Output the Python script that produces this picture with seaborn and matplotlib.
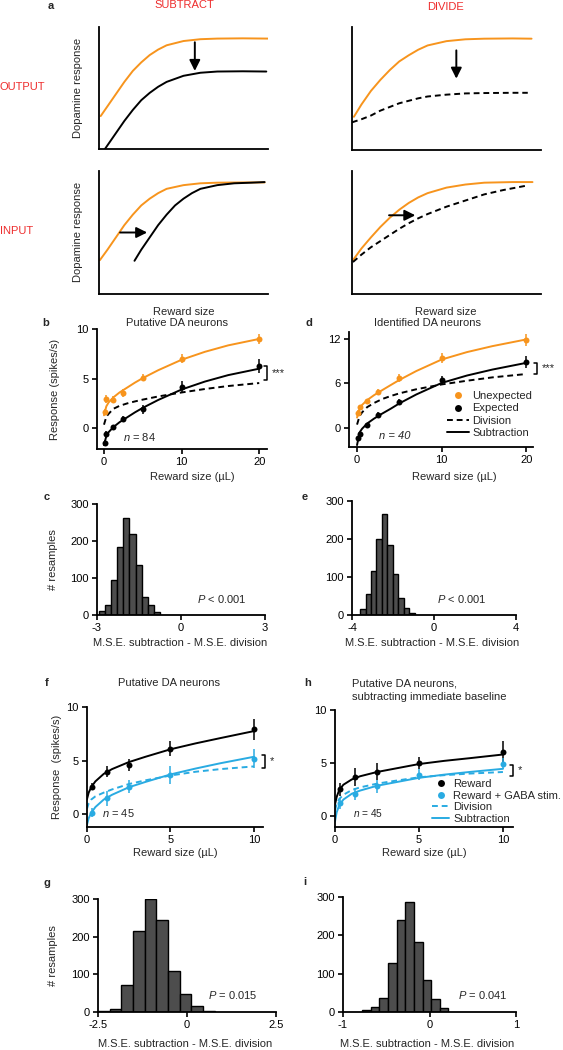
import matplotlib
matplotlib.use('Agg')
import matplotlib.pyplot as plt
import seaborn as sns
import numpy as np
from matplotlib.lines import Line2D

W, H = 563, 1050
ORANGE = '#F7941D'
BLUE = '#29ABE2'
RED = '#EE2D2D'
BAR = '#4D4D4D'

# ---------- panel a: schematic curves (axes units 0-1) ----------
so_x = [0.01, 0.05, 0.1, 0.15, 0.2, 0.25, 0.3, 0.35, 0.4, 0.5, 0.6, 0.7, 0.85, 1.0]
so_orange = [0.27, 0.35, 0.45, 0.55, 0.64, 0.71, 0.77, 0.815, 0.85, 0.885, 0.9, 0.905, 0.907, 0.905]
so_black_x = [0.035, 0.07, 0.1, 0.15, 0.2, 0.25, 0.3, 0.35, 0.4, 0.5, 0.6, 0.7, 0.85, 0.99]
so_black = [0.0, 0.07, 0.13, 0.23, 0.32, 0.40, 0.46, 0.51, 0.55, 0.60, 0.625, 0.635, 0.637, 0.635]

do_x = [0.01, 0.05, 0.1, 0.15, 0.2, 0.25, 0.3, 0.35, 0.4, 0.5, 0.6, 0.7, 0.85, 0.95]
do_orange = [0.27, 0.37, 0.48, 0.57, 0.65, 0.72, 0.77, 0.815, 0.85, 0.885, 0.9, 0.905, 0.907, 0.905]
do_dash_x = [0.0, 0.05, 0.1, 0.15, 0.2, 0.25, 0.3, 0.35, 0.4, 0.5, 0.6, 0.7, 0.85, 0.93]
do_dash = [0.225, 0.25, 0.28, 0.32, 0.35, 0.38, 0.4, 0.42, 0.435, 0.45, 0.46, 0.463, 0.465, 0.465]

si_x = [0.005, 0.05, 0.1, 0.15, 0.2, 0.25, 0.3, 0.35, 0.4, 0.5, 0.6, 0.7, 0.85, 0.98]
si_orange = [0.275, 0.36, 0.46, 0.56, 0.645, 0.72, 0.775, 0.82, 0.855, 0.885, 0.9, 0.905, 0.907, 0.907]
si_black_x = [0.21, 0.25, 0.3, 0.35, 0.4, 0.45, 0.5, 0.55, 0.6, 0.7, 0.8, 0.9, 0.98]
si_black = [0.27, 0.36, 0.46, 0.56, 0.645, 0.72, 0.775, 0.82, 0.855, 0.885, 0.9, 0.905, 0.91]

di_x = [0.005, 0.05, 0.1, 0.15, 0.2, 0.25, 0.3, 0.35, 0.4, 0.5, 0.6, 0.7, 0.85, 0.955]
di_orange = [0.275, 0.37, 0.46, 0.545, 0.62, 0.685, 0.74, 0.785, 0.82, 0.865, 0.89, 0.905, 0.91, 0.91]
di_dash_x = [0.005, 0.05, 0.1, 0.15, 0.2, 0.25, 0.3, 0.35, 0.4, 0.5, 0.6, 0.7, 0.8, 0.92]
di_dash = [0.26, 0.32, 0.38, 0.43, 0.48, 0.53, 0.575, 0.615, 0.65, 0.71, 0.76, 0.81, 0.845, 0.88]

# ---------- panels b, d: reward size responses ----------
reward_x = [0.1, 0.3, 1.2, 2.5, 5, 10, 20]
fit_x = [0, 0.3, 0.6, 1.2, 2, 3, 4, 5, 7, 10, 13, 16, 20]

b_unexp = [1.6, 2.9, 2.85, 3.5, 5.1, 7.0, 8.95]
b_unexp_err = [0.3, 0.4, 0.35, 0.4, 0.37, 0.47, 0.5]
b_exp = [-1.5, -0.6, 0.1, 0.9, 1.9, 4.2, 6.3]
b_exp_err = [0.3, 0.3, 0.25, 0.3, 0.45, 0.55, 0.7]
b_fit_unexp = [1.3, 2.2, 2.6, 3.1, 3.6, 4.1, 4.6, 5.05, 5.85, 6.9, 7.7, 8.35, 9.0]
b_fit_sub = [-1.7, -0.8, -0.4, 0.1, 0.6, 1.1, 1.6, 2.05, 2.85, 3.9, 4.7, 5.35, 6.0]
b_fit_div = [0.35, 1.15, 1.45, 1.95, 2.25, 2.5, 2.7, 2.88, 3.2, 3.6, 3.95, 4.25, 4.55]

d_unexp = [2.0, 2.8, 3.6, 4.9, 6.7, 9.4, 11.8]
d_unexp_err = [0.4, 0.35, 0.35, 0.4, 0.5, 0.63, 0.8]
d_exp = [-1.4, -0.8, 0.4, 1.75, 3.5, 6.5, 8.9]
d_exp_err = [0.3, 0.3, 0.3, 0.35, 0.4, 0.55, 0.8]
d_fit_unexp = [1.4, 2.6, 3.1, 3.75, 4.4, 5.1, 5.78, 6.45, 7.65, 9.2, 10.2, 11.0, 11.9]
d_fit_sub = [-2.3, -0.6, -0.1, 0.6, 1.25, 1.95, 2.6, 3.3, 4.5, 6.05, 7.05, 7.85, 8.75]
d_fit_div = [0.45, 1.6, 2.1, 2.8, 3.35, 3.9, 4.3, 4.65, 5.2, 5.85, 6.35, 6.8, 7.25]

# ---------- panels f, h: GABA stimulation ----------
gaba_x = [0.3, 1.2, 2.5, 5, 10]
fit2_x = [0, 0.1, 0.25, 0.5, 1, 1.5, 2.5, 3.5, 5, 6.5, 8, 10]

f_rew = [2.56, 3.97, 4.6, 6.1, 7.9]
f_rew_err = [0.34, 0.55, 0.55, 0.7, 0.94]
f_gaba = [0.12, 1.47, 2.56, 3.66, 5.16]
f_gaba_err = [0.42, 0.7, 0.6, 0.83, 0.9]
f_fit_rew = [1.4, 2.0, 2.5, 3.05, 3.75, 4.2, 4.85, 5.35, 6.05, 6.6, 7.1, 7.75]
f_fit_sub = [-1.0, -0.4, 0.1, 0.65, 1.35, 1.8, 2.5, 3.0, 3.7, 4.25, 4.75, 5.35]
f_fit_div = [0.5, 1.0, 1.35, 1.65, 2.0, 2.3, 2.8, 3.15, 3.6, 3.95, 4.2, 4.45]

h_rew = [2.5, 3.7, 4.16, 5.0, 6.03]
h_rew_err = [0.65, 0.85, 0.8, 0.6, 1.0]
h_gaba = [1.19, 2.06, 2.8, 3.9, 4.94]
h_gaba_err = [0.5, 0.55, 0.6, 0.55, 0.5]
h_fit_rew = [1.1, 1.8, 2.45, 2.95, 3.45, 3.75, 4.15, 4.45, 4.9, 5.2, 5.45, 5.8]
h_fit_sub = [-0.5, 0.35, 1.0, 1.55, 2.1, 2.4, 2.85, 3.15, 3.6, 3.9, 4.15, 4.45]
h_fit_div = [0.55, 1.15, 1.6, 2.0, 2.45, 2.7, 3.05, 3.3, 3.65, 3.85, 4.0, 4.15]

# ---------- histograms: M.S.E. subtraction - M.S.E. division ----------
c_edges = [-2.94, -2.72, -2.50, -2.28, -2.06, -1.84, -1.62, -1.40, -1.18, -0.96, -0.74]
c_counts = [12, 26, 95, 185, 262, 219, 136, 48, 27, 9]
e_edges = [-3.61, -3.34, -3.07, -2.81, -2.54, -2.27, -2.01, -1.74, -1.47, -1.21, -0.94]
e_counts = [17, 55, 115, 200, 266, 184, 107, 45, 19, 6]
g_edges = [-2.5, -2.17, -1.84, -1.52, -1.19, -0.86, -0.53, -0.20, 0.12, 0.45, 0.78]
g_counts = [2, 9, 71, 216, 299, 244, 109, 47, 15, 3]
i_edges = [-0.78, -0.68, -0.58, -0.48, -0.38, -0.28, -0.18, -0.08, 0.02, 0.12, 0.21]
i_counts = [5, 13, 37, 128, 241, 287, 183, 83, 34, 11]

sns.set_style('ticks')
plt.rcParams['font.family'] = ['Liberation Sans', 'DejaVu Sans']
plt.rcParams['mathtext.fontset'] = 'custom'
plt.rcParams['mathtext.rm'] = 'Liberation Sans'
plt.rcParams['mathtext.it'] = 'Liberation Sans:italic'
plt.rcParams['axes.unicode_minus'] = False
plt.rcParams['axes.edgecolor'] = 'black'
plt.rcParams['xtick.color'] = 'black'
plt.rcParams['ytick.color'] = 'black'
FS = 8
DASH = (0, (3, 2))

fig = plt.figure(figsize=(W / 100, H / 100), dpi=100)


def rect(l, t, r, b):
    return [l / W, 1 - b / H, (r - l) / W, (b - t) / H]


def ftext(x, y, s, **kw):
    kw.setdefault('fontsize', FS)
    kw.setdefault('va', 'center')
    fig.text(x / W, 1 - y / H, s, **kw)


def style(ax):
    sns.despine(ax=ax)
    for sp in ['left', 'bottom']:
        ax.spines[sp].set_linewidth(1.3)
    ax.tick_params(length=3.5, width=1.2, pad=2.5, labelsize=FS, direction='out')
    ax.set_xlabel('')
    ax.set_ylabel('')


def bracket(x, y0, y1, stars):
    fig.add_artist(Line2D([(x - 3) / W, x / W, x / W, (x - 3) / W],
                          [1 - y0 / H, 1 - y0 / H, 1 - y1 / H, 1 - y1 / H],
                          transform=fig.transFigure, color='k', lw=1.1))
    ftext(x + 5, (y0 + y1) / 2, stars, fontsize=8, ha='left')


def line(ax, x, y, color, ls='-'):
    sns.lineplot(x=x, y=y, ax=ax, color=color, lw=1.4, linestyle=ls)


def arrow(ax, start, end):
    ax.annotate('', xy=end, xytext=start,
                arrowprops=dict(arrowstyle='-|>', color='k', lw=1.4,
                                mutation_scale=16, shrinkA=0, shrinkB=0))


# ---- a ----
ax_so = fig.add_axes(rect(99, 27, 268, 149))
ax_do = fig.add_axes(rect(352, 27, 541, 150))
ax_si = fig.add_axes(rect(99, 171, 268, 294))
ax_di = fig.add_axes(rect(352, 171, 541, 294))
for ax in [ax_so, ax_do, ax_si, ax_di]:
    style(ax)
    ax.set_xlim(0, 1)
    ax.set_ylim(0, 1)
    ax.set_xticks([])
    ax.set_yticks([])

line(ax_so, so_x, so_orange, ORANGE)
line(ax_so, so_black_x, so_black, 'black')
arrow(ax_so, (0.567, 0.875), (0.567, 0.64))

line(ax_do, do_x, do_orange, ORANGE)
line(ax_do, do_dash_x, do_dash, 'black', DASH)
arrow(ax_do, (0.552, 0.81), (0.552, 0.58))

line(ax_si, si_x, si_orange, ORANGE)
line(ax_si, si_black_x, si_black, 'black')
arrow(ax_si, (0.125, 0.50), (0.285, 0.50))

line(ax_di, di_x, di_orange, ORANGE)
line(ax_di, di_dash_x, di_dash, 'black', DASH)
arrow(ax_di, (0.196, 0.64), (0.335, 0.64))

ftext(51, 6, 'a', fontweight='bold', ha='center')
ftext(184, 5, 'SUBTRACT', color=RED, ha='center')
ftext(446, 7, 'DIVIDE', color=RED, ha='center')
ftext(0, 87, 'OUTPUT', color=RED, ha='left')
ftext(0, 231, 'INPUT', color=RED, ha='left')
ftext(78, 88, 'Dopamine response', rotation=90, ha='center')
ftext(78, 232, 'Dopamine response', rotation=90, ha='center')
ftext(184, 312, 'Reward size', ha='center')
ftext(446, 312, 'Reward size', ha='center')


# ---- b, d ----
def response_panel(ax, unexp, unexp_err, exp, exp_err, fit_u, fit_s, fit_d):
    line(ax, fit_x, fit_u, ORANGE)
    line(ax, fit_x, fit_s, 'black')
    line(ax, fit_x, fit_d, 'black', DASH)
    ax.errorbar(reward_x, unexp, yerr=unexp_err, fmt='o', color=ORANGE, ms=4.3,
                mew=0, elinewidth=1.1, capsize=1.5, capthick=1.1)
    ax.errorbar(reward_x, exp, yerr=exp_err, fmt='o', color='black', ms=4.3,
                mew=0, elinewidth=1.1, capsize=1.5, capthick=1.1)
    style(ax)
    ax.set_xticks([0, 10, 20])


ax_b = fig.add_axes(rect(97, 329, 267, 449))
response_panel(ax_b, b_unexp, b_unexp_err, b_exp, b_exp_err, b_fit_unexp, b_fit_sub, b_fit_div)
ax_b.set_xlim(-0.9, 21)
ax_b.set_ylim(-2.1, 10)
ax_b.set_yticks([0, 5, 10])

ax_d = fig.add_axes(rect(349, 332, 533, 447))
response_panel(ax_d, d_unexp, d_unexp_err, d_exp, d_exp_err, d_fit_unexp, d_fit_sub, d_fit_div)
ax_d.set_xlim(-0.95, 20.8)
ax_d.set_ylim(-2.56, 12.9)
ax_d.set_yticks([0, 6, 12])

ftext(46, 323, 'b', fontweight='bold', ha='center')
ftext(177, 323, 'Putative DA neurons', ha='center')
ftext(309, 323, 'd', fontweight='bold', ha='center')
ftext(428, 323, 'Identified DA neurons', ha='center')
ftext(55, 389, 'Response (spikes/s)', rotation=90, ha='center')
ftext(192, 477, 'Reward size (\u00b5L)', ha='center')
ftext(454, 477, 'Reward size (\u00b5L)', ha='center')
ftext(123, 437, r'$\mathit{n}$ = 84', ha='left')
ftext(379, 436, 'n = 40', ha='left', fontstyle='italic')
bracket(267, 366, 380, '***')
bracket(537, 363, 374, '***')

leg_d = [Line2D([], [], marker='o', color=ORANGE, ls='none', ms=5, mew=0),
         Line2D([], [], marker='o', color='black', ls='none', ms=5, mew=0),
         Line2D([], [], color='black', ls=DASH, lw=1.4),
         Line2D([], [], color='black', ls='-', lw=1.4)]
ax_d.legend(leg_d, ['Unexpected', 'Expected', 'Division', 'Subtraction'],
            loc='upper left', bbox_to_anchor=(447 / W, 1 - 391 / H),
            bbox_transform=fig.transFigure, frameon=False, fontsize=8,
            handlelength=2.0, handletextpad=0.3, labelspacing=0.22,
            borderpad=0, borderaxespad=0)


# ---- c, e, g, i ----
def hist_panel(ax, edges, counts, xlim, xticks, xticklabels):
    centers = [(a + b) / 2 for a, b in zip(edges[:-1], edges[1:])]
    sns.histplot(x=centers, weights=counts, bins=edges, ax=ax, color=BAR,
                 edgecolor='black', linewidth=1.0, alpha=1)
    style(ax)
    ax.set_xlim(*xlim)
    ax.set_ylim(0, 300)
    ax.set_yticks([0, 100, 200, 300])
    ax.set_xticks(xticks)
    ax.set_xticklabels(xticklabels)


ax_c = fig.add_axes(rect(97, 504, 265, 615))
hist_panel(ax_c, c_edges, c_counts, (-3, 3), [-3, 0, 3], ['-3', '0', '3'])
ax_e = fig.add_axes(rect(352, 501, 516, 615))
hist_panel(ax_e, e_edges, e_counts, (-4, 4), [-4, 0, 4], ['-4', '0', '4'])
ax_g = fig.add_axes(rect(98, 899, 276, 1012))
hist_panel(ax_g, g_edges, g_counts, (-2.5, 2.5), [-2.5, 0, 2.5], ['-2.5', '0', '2.5'])
ax_i = fig.add_axes(rect(343, 897, 516, 1012))
hist_panel(ax_i, i_edges, i_counts, (-1, 1), [-1, 0, 1], ['-1', '0', '1'])

ftext(47, 497, 'c', fontweight='bold', ha='center')
ftext(305, 497, 'e', fontweight='bold', ha='center')
ftext(47, 883, 'g', fontweight='bold', ha='center')
ftext(305, 882, 'i', fontweight='bold', ha='center')
ftext(53, 560, '# resamples', rotation=90, ha='center')
ftext(53, 956, '# resamples', rotation=90, ha='center')
ftext(180, 643, 'M.S.E. subtraction - M.S.E. division', ha='center')
ftext(432, 643, 'M.S.E. subtraction - M.S.E. division', ha='center')
ftext(185, 1044, 'M.S.E. subtraction - M.S.E. division', ha='center')
ftext(427, 1044, 'M.S.E. subtraction - M.S.E. division', ha='center')
ftext(197, 599, r'$\mathit{P}$ < 0.001', ha='left')
ftext(437, 599, r'$\mathit{P}$ < 0.001', ha='left')
ftext(208, 995, r'$\mathit{P}$ = 0.015', ha='left')
ftext(458, 995, r'$\mathit{P}$ = 0.041', ha='left')


# ---- f, h ----
def gaba_panel(ax, rew, rew_err, gaba, gaba_err, fit_r, fit_s, fit_d):
    line(ax, fit2_x, fit_r, 'black')
    line(ax, fit2_x, fit_s, BLUE)
    line(ax, fit2_x, fit_d, BLUE, DASH)
    ax.errorbar(gaba_x, rew, yerr=rew_err, fmt='o', color='black', ms=4.3,
                mew=0, elinewidth=1.1, capsize=1.5, capthick=1.1)
    ax.errorbar(gaba_x, gaba, yerr=gaba_err, fmt='o', color=BLUE, ms=4.3,
                mew=0, elinewidth=1.1, capsize=1.5, capthick=1.1)
    style(ax)
    ax.set_xticks([0, 5, 10])
    ax.set_yticks([0, 5, 10])


ax_f = fig.add_axes(rect(87, 707, 263, 827))
gaba_panel(ax_f, f_rew, f_rew_err, f_gaba, f_gaba_err, f_fit_rew, f_fit_sub, f_fit_div)
ax_f.set_xlim(0, 10.54)
ax_f.set_ylim(-1.21, 10)

ax_h = fig.add_axes(rect(335, 710, 513, 827))
gaba_panel(ax_h, h_rew, h_rew_err, h_gaba, h_gaba_err, h_fit_rew, h_fit_sub, h_fit_div)
ax_h.set_xlim(0, 10.6)
ax_h.set_ylim(-1.04, 10)

ftext(47, 683, 'f', fontweight='bold', ha='center')
ftext(169, 683, 'Putative DA neurons', ha='center')
ftext(308, 683, 'h', fontweight='bold', ha='center')
ftext(352, 683, 'Putative DA neurons,', ha='left')
ftext(352, 697, 'subtracting immediate baseline', ha='left')
ftext(57, 767, 'Response  (spikes/s)', rotation=90, ha='center')
ftext(175, 853, 'Reward size (\u00b5L)', ha='center')
ftext(424, 853, 'Reward size (\u00b5L)', ha='center')
ftext(102, 813, r'$\mathit{n}$ = 45', ha='left')
ftext(353, 813, r'$\mathit{n}$ = 45', ha='left', fontsize=7.3)
bracket(265, 755, 768, '*')
bracket(513, 765, 776, '*')

leg_h = [Line2D([], [], marker='o', color='black', ls='none', ms=5, mew=0),
         Line2D([], [], marker='o', color=BLUE, ls='none', ms=5, mew=0),
         Line2D([], [], color=BLUE, ls=DASH, lw=1.4),
         Line2D([], [], color=BLUE, ls='-', lw=1.4)]
ax_h.legend(leg_h, ['Reward', 'Reward + GABA stim.', 'Division', 'Subtraction'],
            loc='upper left', bbox_to_anchor=(432 / W, 1 - 779 / H),
            bbox_transform=fig.transFigure, frameon=False, fontsize=8,
            handlelength=1.55, handletextpad=0.35, labelspacing=0.14,
            borderpad=0, borderaxespad=0)

fig.savefig('out.png', dpi=100)
